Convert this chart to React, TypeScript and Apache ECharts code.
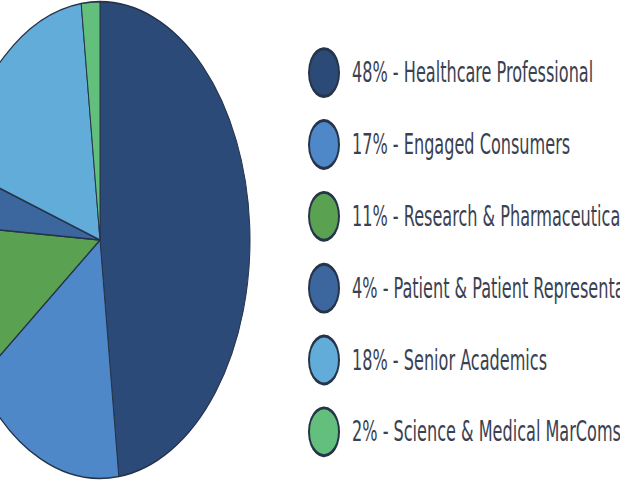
import { useEffect, useRef } from 'react'
import * as echarts from 'echarts'

// audience split, percent
const groups = [
  'Healthcare Professional',
  'Engaged Consumers',
  'Research & Pharmaceutical',
  'Patient & Patient Representatives',
  'Senior Academics',
  'Science & Medical MarComs'
]
const shares = [48, 17, 11, 4, 18, 2]
const colors = ['#2c4a77', '#4f88c9', '#5aa152', '#3b679e', '#62acd9', '#63c07c']

// the reference is a stretched picture: draw flat, then stretch the whole chart
const STRETCH = 1.5894
const FLAT_H = 302

export default function App() {
  const chartRef = useRef<HTMLDivElement>(null)

  useEffect(() => {
    document.body.style.margin = '0'
    if (!chartRef.current) return
    const chart = echarts.init(chartRef.current, null, { renderer: 'svg' })

    chart.setOption({
      animation: false,
      legend: {
        orient: 'vertical',
        left: 308,
        top: 29.7,
        padding: 0,
        icon: 'circle',
        itemWidth: 30,
        itemHeight: 30,
        itemGap: 13.2,
        selectedMode: false,
        formatter: (name: string) => `${shares[groups.indexOf(name)]}% - ${name}`,
        textStyle: {
          fontFamily: "'Liberation Sans Narrow', 'DejaVu Sans Condensed', Roboto, sans-serif",
          fontSize: 17.9,
          color: '#3a4151',
          padding: [0, 0, 0, 8]
        }
      },
      series: [
        {
          type: 'pie',
          center: [100, 151],
          radius: 150,
          startAngle: 90,
          clockwise: true,
          label: { show: false },
          labelLine: { show: false },
          emphasis: { disabled: true },
          itemStyle: { borderColor: '#26344a', borderWidth: 1 },
          data: groups.map((name, i) => ({
            name,
            value: shares[i],
            itemStyle: { color: colors[i] }
          }))
        }
      ]
    })

    return () => {
      chart.dispose()
    }
  }, [])

  return (
    <div style={{ width: 620, height: 480, overflow: 'hidden', position: 'relative', background: '#fff' }}>
      <div
        ref={chartRef}
        style={{
          width: 620,
          height: FLAT_H,
          transform: `scaleY(${STRETCH})`,
          transformOrigin: '0 0'
        }}
      />
    </div>
  )
}
